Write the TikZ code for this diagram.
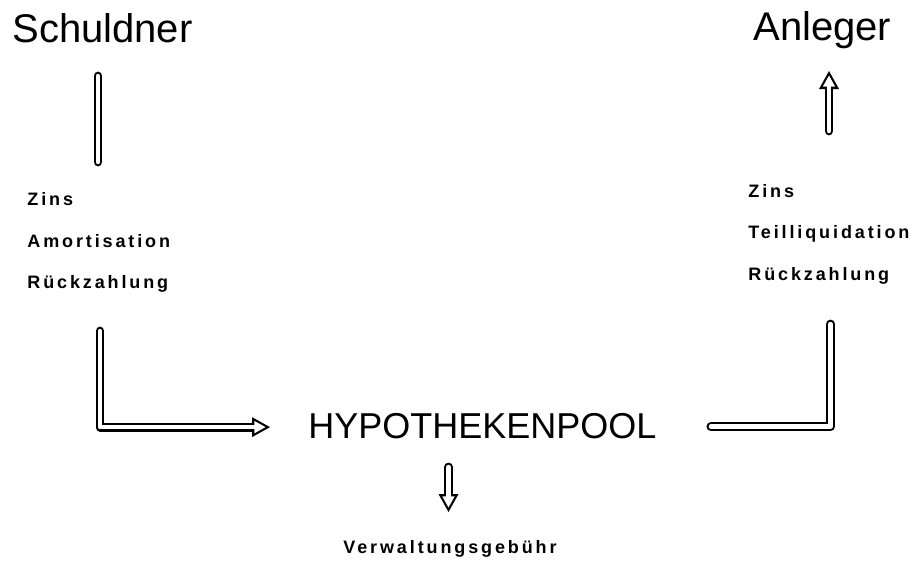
\documentclass[tikz,border=0pt]{standalone}
\usepackage{fontspec}
\setmainfont{Liberation Sans}
\newfontfamily\labelfont{Liberation Sans}[LetterSpace=16]
\usetikzlibrary{arrows.meta,positioning,calc}

\tikzset{
  big/.style={font=\fontsize{20}{24}\selectfont, inner sep=0pt},
  pooltext/.style={font=\fontsize{18}{22}\selectfont, inner sep=0pt},
  small/.style={font=\labelfont\bfseries\fontsize{9}{11}\selectfont, inner sep=0pt},
  hollowbar/.style={line width=4.4pt, line cap=round, line join=round,
    postaction={draw=white, line width=2.2pt}},
  hollowarrow/.style={line width=4.4pt, line cap=round, line join=round,
    -{Triangle[length=9pt,width=10pt,line width=0pt]},
    postaction={draw=white, line width=2.2pt, shorten >=2.27pt,
      -{Triangle[length=5.6pt,width=6.25pt,line width=0pt]}}}
}

\begin{document}
\begin{tikzpicture}[x=0.5pt, y=-0.5pt]
            \useasboundingbox (0,0) rectangle (915,564);

            % Schuldner side
            \node[big, anchor=base west] (schuldner) at (12,42) {Schuldner};
            \node[small, anchor=base west] (zinsL) at (27,205) {Zins};
            \node[small, anchor=base west] (amort) at (27,247) {Amortisation};
            \node[small, anchor=base west] (rueckL) at (27,288) {Rückzahlung};

            % Anleger side
            \node[big, anchor=base west] (anleger) at (753,40) {Anleger};
            \node[small, anchor=base west] (zinsR) at (748,197) {Zins};
            \node[small, anchor=base west] (teil) at (748,238) {Teilliquidation};
            \node[small, anchor=base west] (rueckR) at (748,280) {Rückzahlung};

            % pool and fee
            \node[pooltext, anchor=base west] (pool) at (308,438) {HYPOTHEKENPOOL};
            \node[small, anchor=base] (fee) at (450,553) {Verwaltungsgebühr};

            % connector ends
            \coordinate (barL1) at (98,76);
            \coordinate (barL2) at (98,162);
            \coordinate (inTop) at (100,331);
            \coordinate (inTip) at ($(pool.west)+(-38,1.5)$);
            \coordinate (feeTop) at (448.5,467);
            \coordinate (feeTip) at (448.5,512);
            \coordinate (outStart) at ($(pool.east)+(54,1)$);
            \coordinate (outTop) at (830.5,324);
            \coordinate (upBot) at (829,131);
            \coordinate (upTip) at (829,71);

            % flows
            \draw[hollowbar] (barL1) -- (barL2);
            \draw[hollowarrow] (inTop) -- (inTop |- inTip) -- (inTip);
            \draw[hollowarrow] (feeTop) -- (feeTip);
            \draw[hollowbar] (outStart) -- (outStart -| outTop) -- (outTop);
            \draw[hollowarrow] (upBot) -- (upTip);
        \end{tikzpicture}
\end{document}
